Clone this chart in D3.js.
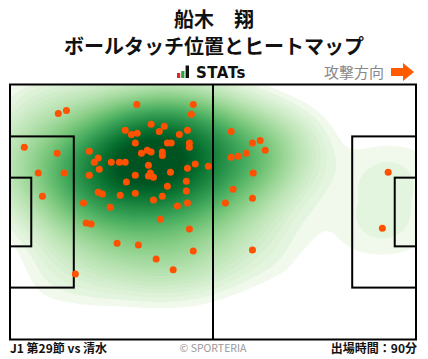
<!DOCTYPE html>
<html>
<head>
<meta charset="utf-8">
<script src="https://cdn.jsdelivr.net/npm/d3@7"></script>
<style>
  body { margin: 0; background: #fff; }
  text { font-family: "Noto Sans CJK JP", "Noto Sans", sans-serif; }
</style>
</head>
<body>
<div id="chart-area"></div>
<script>
// touch positions (pitch metres, 105 x 68, attacking to the right)
let touchX = [12.5, 14.6, 32.8, 47.4, 46.9, 36.5, 39.9, 29.8, 31.4, 32.9, 38.6, 43.8, 45.9,
  32.4, 40.7, 41.7, 46.4, 46.4, 3.7, 12.2, 20.5, 35.5, 36.5, 34.0, 39.4, 39.4, 22.8, 21.8,
  26.2, 28.3, 29.8, 35.8, 47.9, 51.3, 23.1, 7.3, 14.0, 20.5, 32.4, 36.3, 35.8, 37.1, 41.5,
  45.9, 30.1, 45.6, 40.7, 22.8, 23.9, 28.5, 32.4, 39.4, 45.6, 8.4, 37.1, 19.0, 25.9, 43.3,
  45.9, 19.7, 21.0, 38.9, 46.4, 27.7, 33.2, 47.4, 37.8, 42.2, 16.9, 57.2, 62.7, 64.7, 66.0,
  57.2, 59.0, 61.1, 62.9, 97.8, 57.7, 62.7, 55.7, 96.3, 62.7];
let touchY = [7.7, 6.9, 5.3, 5.3, 7.9, 10.6, 11.1, 12.2, 13.3, 13.0, 12.5, 13.3, 12.2,
  15.6, 15.6, 15.6, 15.6, 16.7, 16.7, 18.3, 17.8, 17.5, 18.0, 18.3, 18.0, 18.9, 19.6, 20.7,
  20.7, 20.7, 20.7, 21.5, 21.2, 21.8, 22.6, 23.6, 23.6, 24.2, 24.2, 23.6, 24.4, 24.7, 23.4,
  22.3, 26.0, 25.8, 27.1, 28.7, 29.2, 29.5, 29.0, 29.8, 28.4, 29.8, 30.8, 31.6, 32.7, 32.4,
  31.6, 36.9, 37.2, 35.9, 38.5, 42.3, 42.8, 44.4, 46.5, 49.4, 50.5, 12.5, 15.6, 14.9, 17.5,
  19.4, 19.1, 18.3, 23.6, 23.4, 27.9, 30.3, 31.6, 38.3, 44.1];

let titleLines = ["船木　翔", "ボールタッチ位置とヒートマップ"];
let matchLabel = "J1 第29節 vs 清水";
let minutesLabel = "出場時間：90分";

let W = 428, H = 359;
let pitch = {left: 10, right: 416, top: 84.5, bottom: 339.5};

let svg = d3.select("#chart-area").append("svg")
  .attr("width", W)
  .attr("height", H);

let x = d3.scaleLinear().domain([0, 105]).range([pitch.left, pitch.right]);
let y = d3.scaleLinear().domain([0, 68]).range([pitch.top, pitch.bottom]);

let touches = touchX.map((v, i) => ({x: v, y: touchY[i]}));

// titles
svg.selectAll(".title")
  .data(titleLines)
  .enter().append("text")
  .attr("class", "title")
  .attr("x", 214)
  .attr("y", (d, i) => 27 + i * 27)
  .attr("text-anchor", "middle")
  .style("font-size", "20px")
  .style("font-weight", "700")
  .style("fill", "#111")
  .text(d => d);

// STATs logo
let logo = svg.append("g").attr("transform", "translate(177,78)");
logo.append("rect").attr("x", 0).attr("y", -5).attr("width", 3.2).attr("height", 5).attr("fill", "#e8232a");
logo.append("rect").attr("x", 4.2).attr("y", -7).attr("width", 3.2).attr("height", 7).attr("fill", "#2aa53b");
logo.append("rect").attr("x", 8.6).attr("y", -12.5).attr("width", 3.4).attr("height", 12.5).attr("fill", "#111");
logo.append("text")
  .attr("x", 19).attr("y", 0)
  .style("font-family", "'DejaVu Sans', sans-serif")
  .style("font-size", "15px")
  .style("font-weight", "700")
  .style("letter-spacing", "0.5px")
  .style("fill", "#111")
  .text("STATs");

// attack direction
svg.append("text")
  .attr("x", 384).attr("y", 78)
  .attr("text-anchor", "end")
  .style("font-size", "15px")
  .style("fill", "#888")
  .text("攻撃方向");
svg.append("path")
  .attr("d", "M391,68 L403,68 L403,63 L414,72 L403,81 L403,76 L391,76 Z")
  .attr("fill", "#ff5a00");

// clip for heatmap
svg.append("clipPath").attr("id", "pitch-clip")
  .append("rect")
  .attr("x", pitch.left).attr("y", pitch.top)
  .attr("width", pitch.right - pitch.left)
  .attr("height", pitch.bottom - pitch.top);

// heatmap (kernel density, wider horizontally: computed on an x-squeezed grid)
let kx = 1.5;
let density = d3.contourDensity()
  .x(d => x(d.x) / kx)
  .y(d => y(d.y))
  .size([Math.ceil(W / kx), H])
  .cellSize(2)
  .bandwidth(24);
let contourFn = density.contours(touches);
let maxD = contourFn.max;
let nLevels = 80;
let levels = d3.range(nLevels).map(i => maxD * (0.022 + 0.978 * i / nLevels));
let color = d3.scaleSequential(t => d3.interpolateGreens(0.05 + 0.9 * Math.pow(t, 0.6)))
  .domain([levels[0], maxD * 0.88])
  .clamp(true);

svg.append("g")
  .attr("clip-path", "url(#pitch-clip)")
  .append("g")
  .attr("transform", "scale(" + kx + ",1)")
  .selectAll("path")
  .data(levels.map(v => contourFn(v)))
  .enter().append("path")
  .attr("d", d3.geoPath())
  .attr("fill", d => color(d.value))
  .attr("stroke", "none");

// pitch lines
let lines = svg.append("g")
  .attr("fill", "none")
  .attr("stroke", "#000")
  .attr("stroke-width", 2);
lines.append("rect")
  .attr("x", x(0)).attr("y", y(0))
  .attr("width", x(105) - x(0)).attr("height", y(68) - y(0));
lines.append("line")
  .attr("x1", x(52.5)).attr("x2", x(52.5))
  .attr("y1", y(0)).attr("y2", y(68));
// penalty and goal areas
[[0, 16.5], [105 - 16.5, 105]].forEach(b => {
  lines.append("rect")
    .attr("x", x(b[0])).attr("y", y(13.84))
    .attr("width", x(b[1]) - x(b[0])).attr("height", y(54.16) - y(13.84));
});
[[0, 5.5], [105 - 5.5, 105]].forEach(b => {
  lines.append("rect")
    .attr("x", x(b[0])).attr("y", y(24.84))
    .attr("width", x(b[1]) - x(b[0])).attr("height", y(43.16) - y(24.84));
});

// touches
svg.append("g")
  .selectAll("circle")
  .data(touches)
  .enter().append("circle")
  .attr("cx", d => x(d.x))
  .attr("cy", d => y(d.y))
  .attr("r", 3.5)
  .attr("fill", "#ff5100");

// footer
svg.append("text")
  .attr("x", 10).attr("y", 353)
  .style("font-size", "12px").style("font-weight", "700").style("fill", "#111")
  .text(matchLabel);
svg.append("text")
  .attr("x", 213).attr("y", 352)
  .attr("text-anchor", "middle")
  .style("font-size", "10.5px").style("fill", "#999")
  .text("© SPORTERIA");
svg.append("text")
  .attr("x", 417).attr("y", 353)
  .attr("text-anchor", "end")
  .style("font-size", "12px").style("font-weight", "700").style("fill", "#111")
  .text(minutesLabel);
</script>
</body>
</html>
